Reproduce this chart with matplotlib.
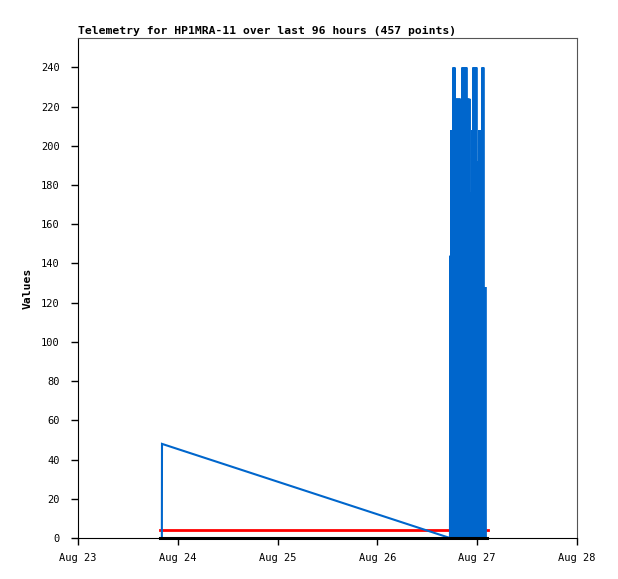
"""
Telemetry plot for HP1MRA-11, last 96 hours
"""
import numpy as np
import pandas as pd
import matplotlib
matplotlib.use("Agg")
import matplotlib.pyplot as plt
import matplotlib.dates as mdates

# Data
# channel 1 (blue): first sample on Aug 23, then a burst from Aug 26 17:00 onwards
ch1_start = ["2023-08-23 20:10", "2023-08-23 20:12"]
ch1_start_vals = [0, 48]

# burst: minutes after 2023-08-26 17:00
burst_min = [27, 34, 41, 48, 56, 63, 70, 77, 85, 92, 99, 106, 113, 120, 128, 135,
             142, 149, 157, 164, 171, 178, 185, 192, 200, 207, 214, 221, 229, 236,
             243, 250, 257, 264, 272, 279, 286, 293, 301, 308, 315, 322, 329, 336,
             344, 351, 358, 365, 373, 380, 387, 394, 401, 408, 416, 423, 430, 437,
             445, 452, 459, 466, 473, 488, 495, 502, 509, 517, 524, 531, 538, 545]
burst_vals = [0, 144, 0, 208, 0, 208, 0, 240, 0, 240, 0, 224, 0, 224, 0, 224,
              0, 224, 0, 224, 0, 224, 0, 176, 0, 240, 0, 240, 0, 240,
              0, 240, 0, 240, 0, 224, 0, 224, 0, 224, 0, 176, 0, 128,
              0, 208, 0, 240, 0, 240, 0, 240, 0, 240, 0, 192, 0, 192,
              0, 208, 0, 208, 0, 0, 240, 0, 240, 0, 128, 0, 128, 0]

# channel 2 (red) and channel 3 (black)
ch2_times = ["2023-08-23 19:43", "2023-08-27 02:36"]
ch2_vals = [4, 4]
ch3_times = ["2023-08-23 19:43", "2023-08-27 02:26"]
ch3_vals = [0, 0]

x_start, x_end = "2023-08-23", "2023-08-28"
title = "Telemetry for HP1MRA-11 over last 96 hours (457 points)"

# Build series
burst_t = pd.Timestamp("2023-08-26 17:00") + pd.to_timedelta(burst_min, unit="m")
ch1_t = list(pd.to_datetime(ch1_start)) + list(burst_t)
ch1_v = ch1_start_vals + burst_vals

plt.rcParams['font.family'] = ['DejaVu Sans Mono']

fig = plt.figure(figsize=(6.18, 5.79), dpi=100)
ax = fig.add_axes([78/618, 41/579, 499/618, 500/579])

ax.plot(pd.to_datetime(ch2_times), ch2_vals, color='#ff0000', lw=2.0, zorder=2)
ax.plot(ch1_t, ch1_v, color='#0066cc', lw=1.5, zorder=3, solid_joinstyle='miter')
ax.plot(pd.to_datetime(ch3_times), ch3_vals, color='k', lw=2.2, zorder=4, clip_on=False)

ax.set_xlim(pd.Timestamp(x_start), pd.Timestamp(x_end))
ax.set_ylim(0, 255)
ax.set_yticks(np.arange(0, 241, 20))
ax.xaxis.set_major_locator(mdates.DayLocator())
ax.xaxis.set_major_formatter(mdates.DateFormatter('%b %d'))

ax.tick_params(axis='both', direction='out', length=5, width=1, labelsize=7.5, color='k')
ax.tick_params(axis='y', pad=8)
ax.tick_params(axis='x', pad=6)
for s in ['top', 'right']:
    ax.spines[s].set_color('#555555')
for s in ['left', 'bottom']:
    ax.spines[s].set_color('k')

ax.set_title(title, loc='left', fontsize=8.2, fontweight='bold', pad=3)
ax.set_ylabel('Values', fontsize=8.2, fontweight='bold', labelpad=6)

plt.savefig('out.png', dpi=100)
plt.close()
